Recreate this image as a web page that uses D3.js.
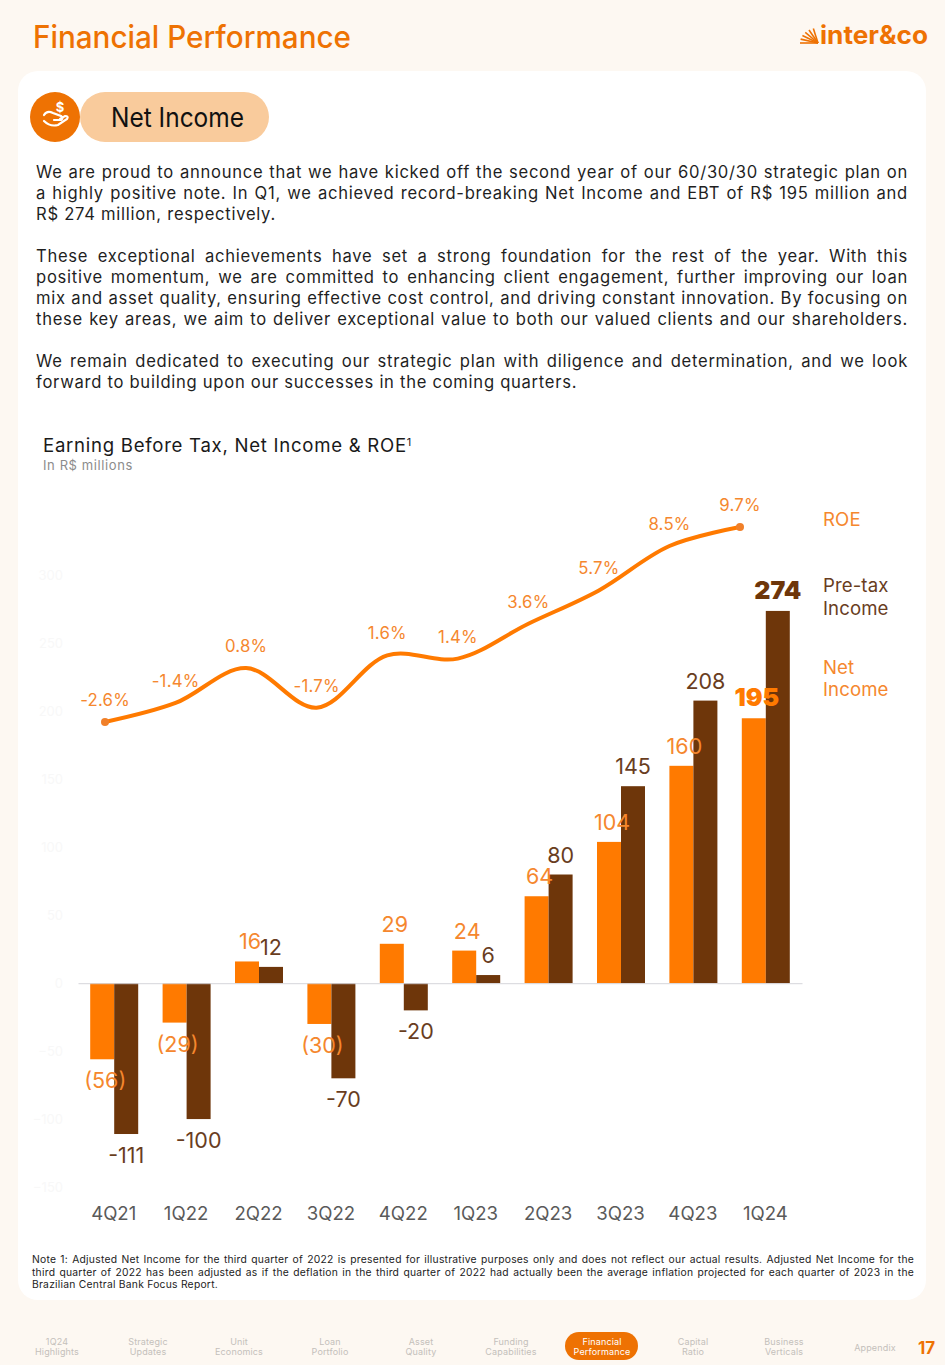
<!DOCTYPE html>
<html><head><meta charset="utf-8">
<script src="https://cdnjs.cloudflare.com/ajax/libs/d3/7.8.5/d3.min.js"></script>
<style>
html,body{margin:0;padding:0;background:#fdf8f2;}
body{width:945px;height:1365px;position:relative;overflow:hidden;font-family:Inter,sans-serif;}
svg{position:absolute;left:0;top:0;}
.l{position:absolute;left:36px;width:872px;font-size:16.6px;line-height:21px;color:#1f1f1f;text-align:justify;text-align-last:justify;white-space:nowrap;letter-spacing:.72px;}
.l.e{text-align-last:left;}
.n{position:absolute;left:32px;width:882px;font-size:10.3px;line-height:12.5px;color:#222;text-align:justify;text-align-last:justify;white-space:nowrap;letter-spacing:.25px;}
.n.e{text-align-last:left;}
</style></head><body>
<svg id="c" width="945" height="1365"></svg>
<script>
const categories=["4Q21","1Q22","2Q22","3Q22","4Q22","1Q23","2Q23","3Q23","4Q23","1Q24"];
const netIncome=[-56,-29,16,-30,29,24,64,104,160,195];
const preTaxIncome=[-111,-100,12,-70,-20,6,80,145,208,274];
const roe=[-2.6,-1.4,0.8,-1.7,1.6,1.4,3.6,5.7,8.5,9.7];
const netLabels=["(56)","(29)","16","(30)","29","24","64","104","160","195"];
const yTicks=[300,250,200,150,100,50,0,-50,-100,-150];
const navItems=[["1Q24","Highlights"],["Strategic","Updates"],["Unit","Economics"],["Loan","Portfolio"],["Asset","Quality"],["Funding","Capabilities"],["Financial","Performance"],["Capital","Ratio"],["Business","Verticals"],["Appendix"]];
const navCenters=[57,148,239,330,421,511,602,693,784,875];
const bodyLines=[
["We are proud to announce that we have kicked off the second year of our 60/30/30 strategic plan on",0],
["a highly positive note. In Q1, we achieved record-breaking Net Income and EBT of R$ 195 million and",0],
["R$ 274 million, respectively.",1],
["",1],
["These exceptional achievements have set a strong foundation for the rest of the year. With this",0],
["positive momentum, we are committed to enhancing client engagement, further improving our loan",0],
["mix and asset quality, ensuring effective cost control, and driving constant innovation. By focusing on",0],
["these key areas, we aim to deliver exceptional value to both our valued clients and our shareholders.",0],
["",1],
["We remain dedicated to executing our strategic plan with diligence and determination, and we look",0],
["forward to building upon our successes in the coming quarters.",1]];
const noteLines=[
["Note 1: Adjusted Net Income for the third quarter of 2022 is presented for illustrative purposes only and does not reflect our actual results.  Adjusted Net Income for the",0],
["third quarter of 2022 has been adjusted as if the deflation in the third quarter of 2022 had actually been the average inflation projected for each quarter of 2023 in the",0],
["Brazilian Central Bank Focus Report.",1]];

const ORANGE="#ff7a00",DARK="#6e360a",DLBL="#693d1e",LBL="#f5872e",BRAND="#ee7203";
const svg=d3.select("#c");

svg.append("rect").attr("x",18).attr("y",71).attr("width",908).attr("height",1229).attr("rx",20).attr("fill","#fff");
svg.append("text").text("Financial Performance").attr("x",33).attr("y",48).attr("font-size",31).attr("font-weight",500)
  .attr("fill",BRAND).attr("textLength",318).attr("lengthAdjust","spacingAndGlyphs");
const logo=svg.append("g").attr("fill",BRAND);
logo.append("text").text("inter&co").attr("x",820).attr("y",44).attr("font-size",25).attr("font-weight",700)
  .attr("textLength",108).attr("lengthAdjust","spacingAndGlyphs");
d3.range(6).forEach(i=>{const a=(i/5)*Math.PI/2.4;
  logo.append("line").attr("x1",818).attr("y1",43).attr("x2",818-18*Math.cos(a)).attr("y2",43-15*Math.sin(a))
   .attr("stroke",BRAND).attr("stroke-width",1.6);});
svg.append("rect").attr("x",80).attr("y",92).attr("width",189).attr("height",50).attr("rx",25).attr("fill","#f9cb9c");
svg.append("circle").attr("cx",55).attr("cy",117).attr("r",25).attr("fill",BRAND);
svg.append("text").text("Net Income").attr("x",111).attr("y",127).attr("font-size",27).attr("font-weight",400).attr("fill","#111")
  .attr("textLength",133).attr("lengthAdjust","spacingAndGlyphs");
svg.append("text").text("$").attr("x",60).attr("y",112).attr("font-size",13).attr("font-weight",700).attr("fill","#fff").attr("text-anchor","middle");
svg.append("path").attr("d","M44 115 q3 -5 9 -2 l8 3 q3 2 0 4 l-7 0 M44 121 q6 6 14 4 l9 -6 q2 -3 -2 -3 l-5 3")
  .attr("fill","none").attr("stroke","#fff").attr("stroke-width",2.2).attr("stroke-linecap","round");

bodyLines.forEach((d,i)=>{d3.select("body").append("div").attr("class","l"+(d[1]?" e":"")).style("top",(162.3+i*20.98)+"px").text(d[0]);});
noteLines.forEach((d,i)=>{d3.select("body").append("div").attr("class","n"+(d[1]?" e":"")).style("top",(1253+i*12.6)+"px").text(d[0]);});

const ct=svg.append("text").attr("x",43).attr("y",452).attr("font-size",18.6).attr("fill","#1a1a1a").attr("letter-spacing",.72).text("Earning Before Tax, Net Income & ROE");
ct.append("tspan").text("1").attr("font-size",11).attr("dy",-6);
svg.append("text").text("In R$ millions").attr("x",43).attr("y",470).attr("font-size",13).attr("fill","#8c8c8c").attr("letter-spacing",.6);

const x=d3.scaleBand().domain(categories).range([78,802]).paddingInner(0.337).paddingOuter(0.1685);
const x1=d3.scaleBand().domain(["net","pre"]).range([0,x.bandwidth()]);
const y=d3.scaleLinear().domain([-150,300]).range([1187,575.6]);
const xLine=d3.scalePoint().domain(categories).range([105,740]);
const yRoe=d3.scaleLinear().domain([-2.6,9.7]).range([722,527]);

const yAxis=d3.axisLeft(y).tickValues(yTicks).tickSize(0).tickPadding(0);
const yg=svg.append("g").attr("transform","translate(63,0)").call(yAxis);
yg.select(".domain").remove();
yg.selectAll("text").attr("font-size",13).attr("font-family","Inter").attr("fill","#f8f8f8");

const barG=svg.append("g");
const series=[["net",netIncome,ORANGE],["pre",preTaxIncome,DARK]];
series.forEach(([k,vals,col])=>{
  barG.selectAll("rect."+k).data(vals).join("rect").attr("class",k)
    .attr("x",(d,i)=>x(categories[i])+x1(k)).attr("width",x1.bandwidth())
    .attr("y",d=>Math.min(y(d),y(0))).attr("height",d=>Math.abs(y(d)-y(0))).attr("fill",col);
});
const xAxis=d3.axisBottom(x).tickSize(0).tickPadding(0);
const xg=svg.append("g").attr("transform",`translate(0,${y(0)})`).call(xAxis);
xg.select(".domain").attr("stroke","#d6d6da").attr("stroke-width",1);
xg.selectAll("text").attr("font-size",18.6).attr("font-family","Inter").attr("fill","#5a5a5a").attr("dy",0)
  .attr("x",-0.5).attr("y",y(-150)-y(0)+33);

const line=d3.line().x((d,i)=>xLine(categories[i])).y(d=>yRoe(d)).curve(d3.curveCatmullRom.alpha(0.5));
svg.append("path").datum(roe).attr("d",line).attr("fill","none").attr("stroke",ORANGE).attr("stroke-width",4).attr("stroke-linecap","round");
[0,roe.length-1].forEach(i=>svg.append("circle").attr("cx",xLine(categories[i])).attr("cy",yRoe(roe[i])).attr("r",4).attr("fill","#f0802a"));
svg.append("g").selectAll("text").data(roe).join("text")
  .text(d=>d.toFixed(1)+"%").attr("x",(d,i)=>xLine(categories[i]))
  .attr("y",d=>yRoe(d)-16).attr("text-anchor","middle").attr("font-size",16.8).attr("letter-spacing",.2).attr("fill",LBL);

svg.append("g").selectAll("text").data(netIncome).join("text")
  .text((d,i)=>netLabels[i])
  .attr("x",(d,i)=>x(categories[i])+x1("net")+x1.bandwidth()/2+3)
  .attr("y",d=>y(d)+(d<0?29:-12))
  .attr("text-anchor","middle").attr("fill",(d,i)=>i==9?ORANGE:LBL)
  .attr("font-size",(d,i)=>i==9?25:21.5).attr("font-weight",(d,i)=>i==9?900:400);
svg.append("g").selectAll("text").data(preTaxIncome).join("text")
  .text(d=>d)
  .attr("x",(d,i)=>x(categories[i])+x1("pre")+x1.bandwidth()/2)
  .attr("y",d=>y(d)+(d<0?29:-12))
  .attr("text-anchor","middle").attr("fill",(d,i)=>i==9?DARK:DLBL)
  .attr("font-size",(d,i)=>i==9?25:21.5).attr("font-weight",(d,i)=>i==9?900:400);

[["ROE",526,LBL],["Pre-tax",592,DLBL],["Income",615,DLBL],["Net",674,LBL],["Income",696,LBL]].forEach(d=>{
  svg.append("text").text(d[0]).attr("x",823).attr("y",d[1]).attr("font-size",18.6).attr("letter-spacing",.1).attr("fill",d[2]);
});

svg.append("rect").attr("x",565).attr("y",1332).attr("width",73).attr("height",28).attr("rx",14).attr("fill",BRAND);
navItems.forEach((lines,i)=>{
  const active=i==6;
  lines.forEach((t,j)=>{
    svg.append("text").text(t).attr("x",navCenters[i])
      .attr("y",(lines.length==1?1351:1345+j*10.4)).attr("text-anchor","middle").attr("font-size",9)
      .attr("letter-spacing",.15).attr("fill",active?"#fff":"#c4c0bb");
  });
});
svg.append("text").text("17").attr("x",918).attr("y",1354).attr("font-size",17).attr("font-weight",700).attr("fill",BRAND);
</script>
</body></html>
